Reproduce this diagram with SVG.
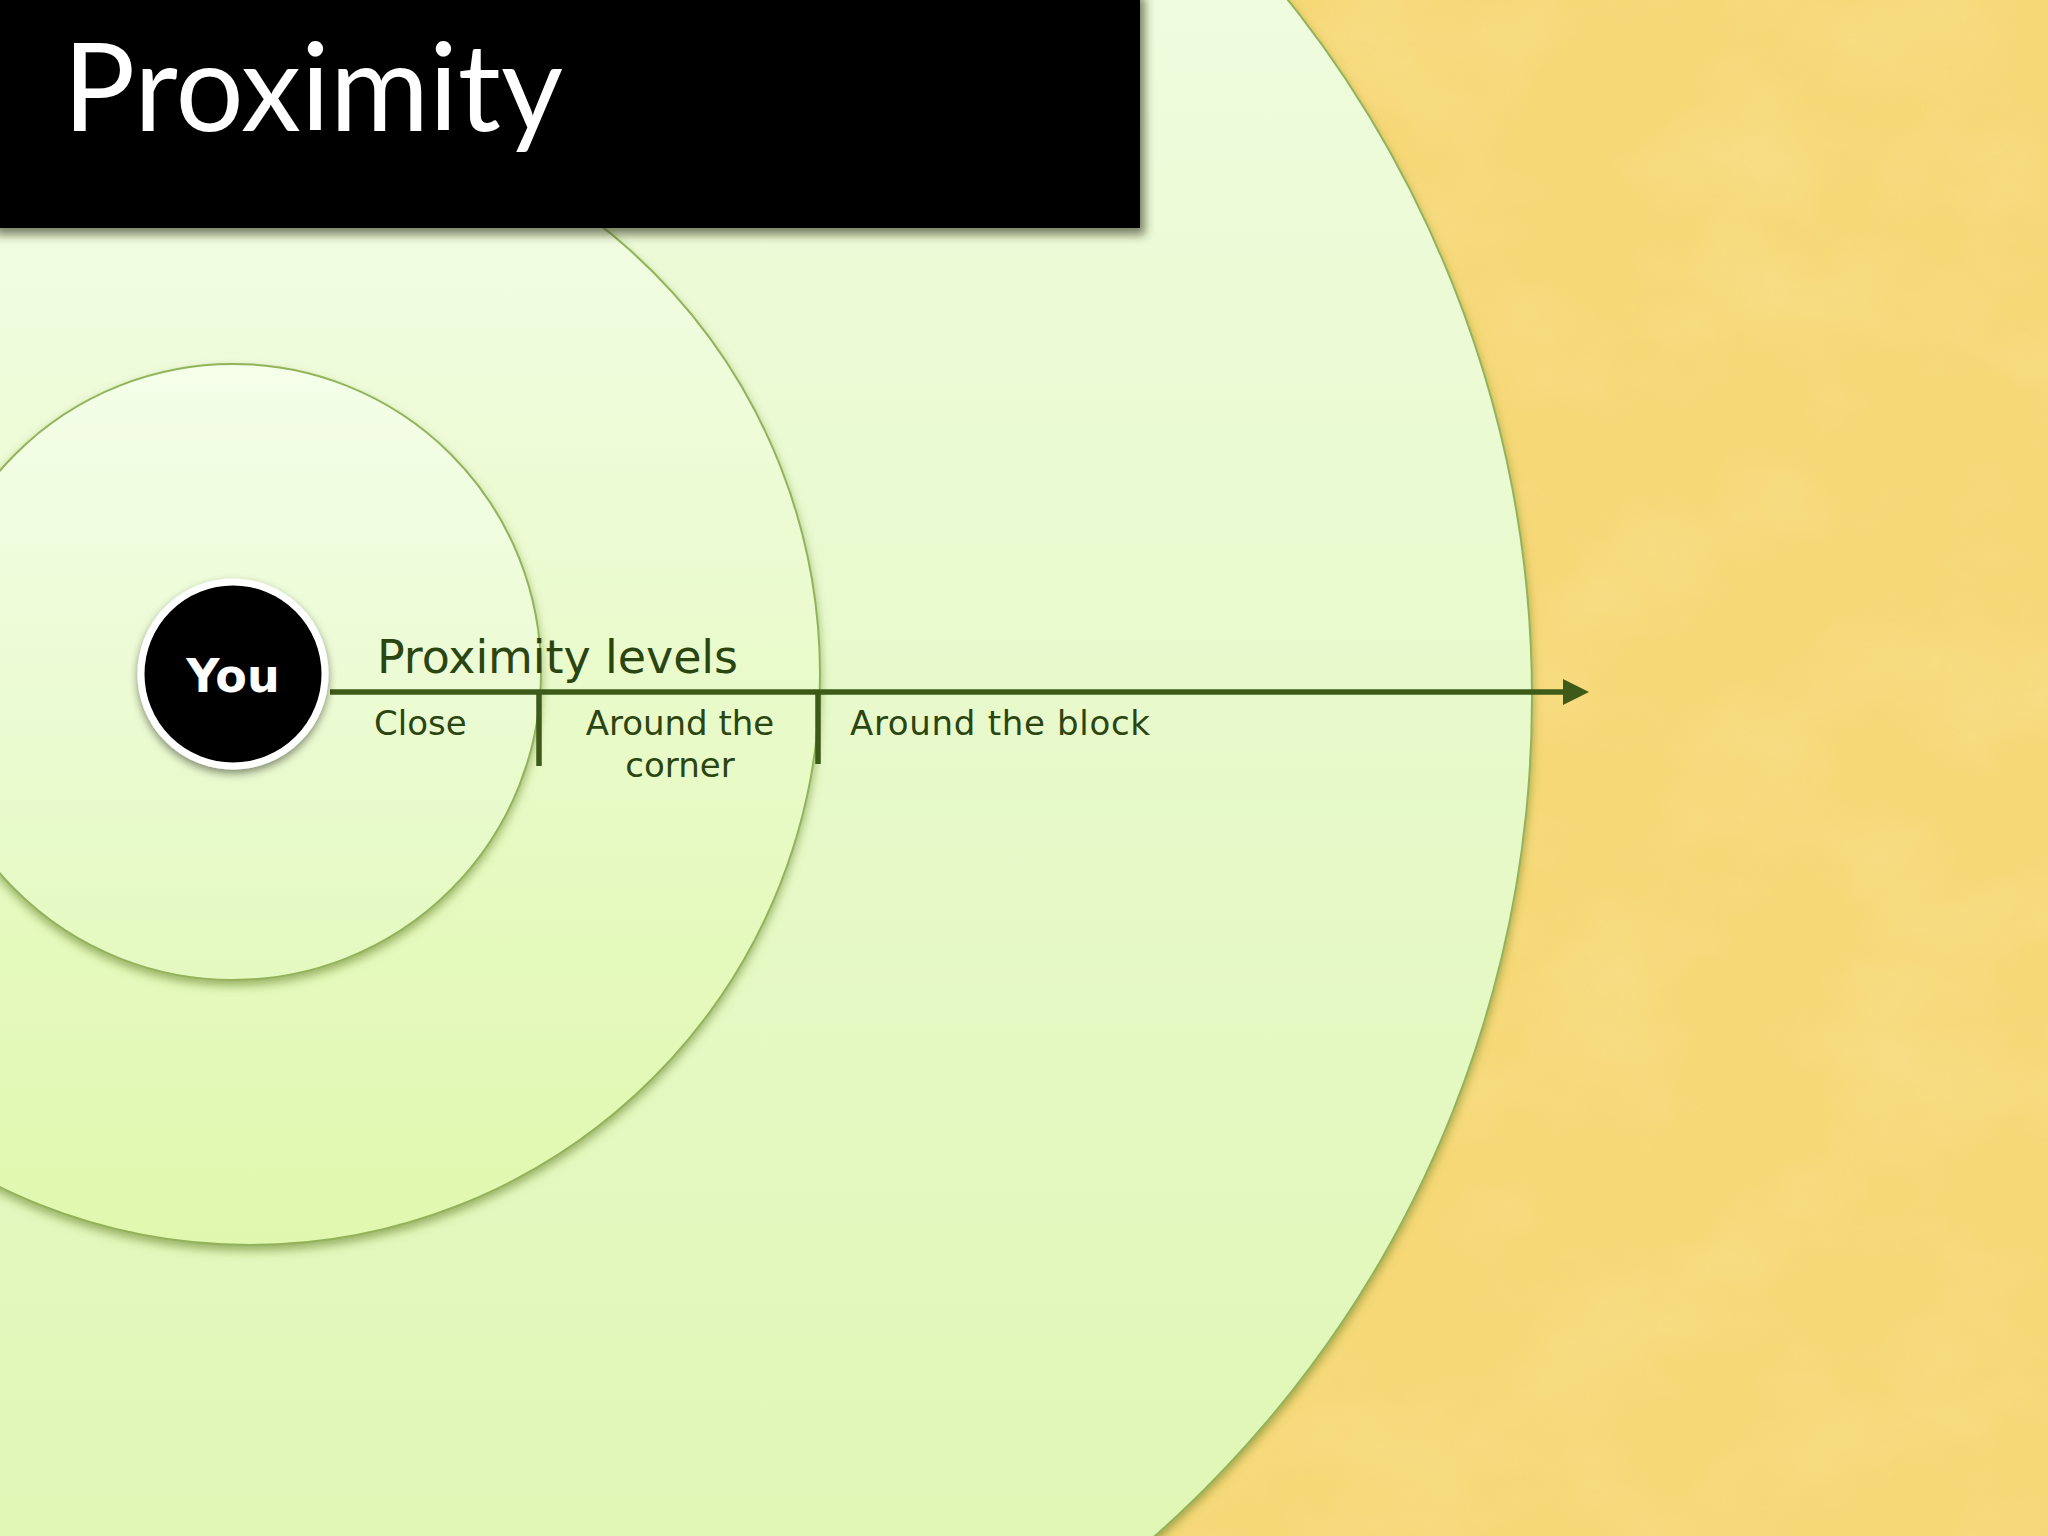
<svg xmlns="http://www.w3.org/2000/svg" width="2048" height="1536" viewBox="0 0 2048 1536">
<style>
.ring{stroke:#93b35a;stroke-width:2}
.lbl{font-family:"DejaVu Sans","Liberation Sans",sans-serif;fill:#2b4510}
.axis{stroke:#3d5a18;stroke-width:5.5;fill:none}
</style>
<defs>
<linearGradient id="gBig" x1="0" y1="0" x2="0" y2="1">
<stop offset="0" stop-color="#f3fde9"/><stop offset="1" stop-color="#ddf6ae"/>
</linearGradient>
<linearGradient id="gMid" x1="0" y1="0" x2="0" y2="1">
<stop offset="0" stop-color="#f3fde8"/><stop offset="1" stop-color="#e0f8ae"/>
</linearGradient>
<linearGradient id="gIn" x1="0" y1="0" x2="0" y2="1">
<stop offset="0" stop-color="#f4fee9"/><stop offset="1" stop-color="#e4f9c0"/>
</linearGradient>
<filter id="tex" x="0" y="0" width="100%" height="100%">
<feTurbulence type="fractalNoise" baseFrequency="0.006 0.008" numOctaves="4" seed="7"/>
<feColorMatrix type="matrix" values="0 0 0 0 1  0 0 0 0 0.9  0 0 0 0 0.55  1.4 0 0 0 -0.6"/>
</filter>
<filter id="sh" x="-10%" y="-10%" width="120%" height="120%">
<feDropShadow dx="0" dy="5" stdDeviation="5" flood-color="#5c7a20" flood-opacity="0.55"/>
</filter>
<filter id="shT" x="-10%" y="-20%" width="120%" height="140%">
<feDropShadow dx="5" dy="7" stdDeviation="5" flood-color="#2a3010" flood-opacity="0.6"/>
</filter>
<filter id="shY" x="-20%" y="-20%" width="140%" height="140%">
<feDropShadow dx="0" dy="4" stdDeviation="4" flood-color="#000" flood-opacity="0.45"/>
</filter>
<marker id="arr" markerUnits="userSpaceOnUse" markerWidth="26" markerHeight="26" refX="0" refY="13" orient="auto">
<path d="M0,0 L26,13 L0,26 Z" fill="#3d5a18"/>
</marker>
</defs>

<g id="background">
<rect x="0" y="0" width="2048" height="1536" fill="#f6d877"/>
<rect x="0" y="0" width="2048" height="1536" filter="url(#tex)" opacity="0.3"/>
</g>

<g id="ring-block"><circle class="ring" cx="412" cy="698" r="1120" fill="url(#gBig)" filter="url(#sh)"/></g>
<g id="ring-corner"><circle class="ring" cx="250" cy="675" r="570" fill="url(#gMid)" filter="url(#sh)"/></g>
<g id="ring-close"><circle class="ring" cx="233" cy="672" r="308" fill="url(#gIn)" filter="url(#sh)"/></g>

<g id="title">
<rect x="-10" y="-10" width="1150" height="238" fill="#000" filter="url(#shT)"/>
<text x="63" y="131" font-family="Lato,'Open Sans',sans-serif" font-size="123" fill="#fff" textLength="500" lengthAdjust="spacingAndGlyphs">Proximity</text>
</g>

<g id="connectors">
<line class="axis" x1="330" y1="692" x2="1563" y2="692" marker-end="url(#arr)"/>
<line class="axis" x1="539" y1="692" x2="539" y2="766" stroke-width="5"/>
<line class="axis" x1="818" y1="692" x2="818" y2="764" stroke-width="5"/>
</g>

<g id="you">
<circle cx="233" cy="674" r="92" fill="#000" stroke="#fff" stroke-width="7" filter="url(#shY)"/>
<text x="233" y="692" text-anchor="middle" font-family="'DejaVu Sans','Liberation Sans',sans-serif" font-weight="bold" font-size="46" fill="#fff">You</text>
</g>

<g id="labels">
<text class="lbl" x="377" y="673" font-size="46" textLength="361">Proximity levels</text>
<text class="lbl" x="374" y="735" font-size="34">Close</text>
<text class="lbl" x="680" y="735" font-size="34" text-anchor="middle">Around the</text>
<text class="lbl" x="680" y="777" font-size="34" text-anchor="middle">corner</text>
<text class="lbl" x="850" y="735" font-size="34" textLength="300">Around the block</text>
</g>
</svg>
